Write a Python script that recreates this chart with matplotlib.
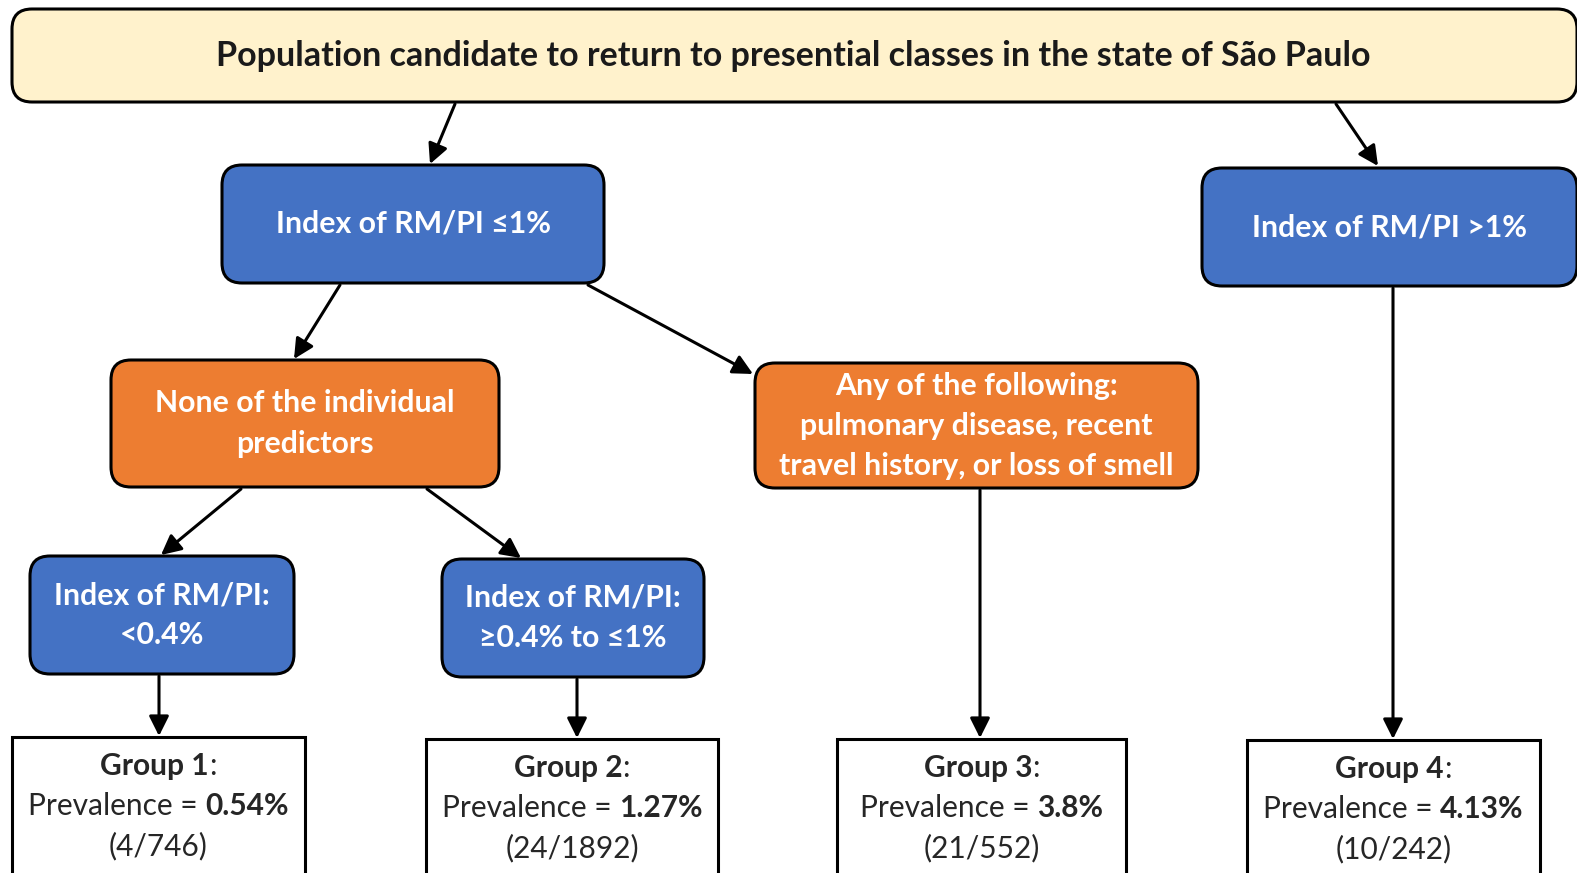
import matplotlib
matplotlib.use("Agg")
import matplotlib.pyplot as plt
from matplotlib.patches import FancyBboxPatch, Rectangle

# ---------------- data ----------------
title_text = "Population candidate to return to presential classes in the state of São Paulo"
node_labels = {
    "A": ["Index of RM/PI ≤1%"],
    "B": ["Index of RM/PI >1%"],
    "C": ["None of the individual", "predictors"],
    "D": ["Any of the following:", "pulmonary disease, recent", "travel history, or loss of smell"],
    "E": ["Index of RM/PI:", "<0.4%"],
    "F": ["Index of RM/PI:", "≥0.4% to ≤1%"],
}
group_names = ["Group 1", "Group 2", "Group 3", "Group 4"]
prevalence = ["0.54%", "1.27%", "3.8%", "4.13%"]
counts = ["(4/746)", "(24/1892)", "(21/552)", "(10/242)"]

# ---------------- layout / style ----------------
W, H = 1577, 873
FONT = ["Lato", "DejaVu Sans"]
BLUE = "#4472C4"
ORANGE = "#ED7D31"
CREAM = "#FFF2CC"

boxes = {  # x0, y0, x1, y1 (pixels, y downward)
    "T": (12, 9, 1577, 102),
    "A": (222, 165, 604, 283),
    "B": (1202, 168, 1577, 286),
    "C": (111, 360, 499, 487),
    "D": (755, 363, 1198, 488),
    "E": (30, 556, 294, 674),
    "F": (442, 559, 704, 677),
}
node_color = {"T": CREAM, "A": BLUE, "B": BLUE, "C": ORANGE, "D": ORANGE, "E": BLUE, "F": BLUE}
group_boxes = [(12, 737, 305, 900), (426, 739, 718, 900), (837, 739, 1126, 900), (1247, 740, 1540, 900)]

arrows = [
    ((455, 104), (430, 164)),
    ((1336, 104), (1378, 166)),
    ((340, 285), (294, 359)),
    ((588, 285), (753, 374)),
    ((241, 489), (161, 555)),
    ((427, 489), (521, 558)),
    ((159, 676), (159, 736)),
    ((577, 679), (577, 738)),
    ((980, 490), (980, 738)),
    ((1393, 288), (1393, 739)),
]

FS_T = 24.5
FS_N = 21.8
FS_G = 21.5
LINE = 40

fig = plt.figure(figsize=(W / 100, H / 100), dpi=100)
ax = fig.add_axes([0, 0, 1, 1])
ax.set_xlim(0, W)
ax.set_ylim(H, 0)
ax.axis("off")
renderer = fig.canvas.get_renderer()

# rounded boxes
for key, (x0, y0, x1, y1) in boxes.items():
    p = FancyBboxPatch((x0, y0), x1 - x0, y1 - y0,
                       boxstyle="round,pad=0,rounding_size=20",
                       facecolor=node_color[key], edgecolor="black", lw=2.2, zorder=2)
    ax.add_patch(p)

# title
x0, y0, x1, y1 = boxes["T"]
ax.text(793, (y0 + y1) / 2 + 1, title_text, ha="center", va="center", fontsize=FS_T,
        fontweight="bold", family=FONT, color="#1a1a1a", zorder=3)

# node text
for key, lines in node_labels.items():
    x0, y0, x1, y1 = boxes[key]
    cx, cy = (x0 + x1) / 2, (y0 + y1) / 2
    n = len(lines)
    for i, s in enumerate(lines):
        y = cy + (i - (n - 1) / 2) * LINE
        ax.text(cx, y, s, ha="center", va="center", fontsize=FS_N, fontweight="bold",
                family=FONT, color="white", zorder=3)


def width_of(s, weight):
    t = ax.text(0, 0, s, fontsize=FS_G, fontweight=weight, family=FONT)
    w = t.get_window_extent(renderer).width
    t.remove()
    return w


space_w = width_of("a a", "normal") - width_of("aa", "normal")


def rich_line(cx, y, parts, color):
    widths = [width_of(s, w) for s, w, g in parts]
    gaps = [g * space_w for s, w, g in parts]
    total = sum(widths) + sum(gaps)
    cur = cx - total / 2
    for (s, w, g), wd, gp in zip(parts, widths, gaps):
        cur += gp
        ax.text(cur, y, s, ha="left", va="center", fontsize=FS_G, fontweight=w,
                family=FONT, color=color, zorder=3)
        cur += wd


TXT = "#262626"
for i, (x0, y0, x1, y1) in enumerate(group_boxes):
    ax.add_patch(Rectangle((x0, y0), x1 - x0, y1 - y0, facecolor="white",
                           edgecolor="black", lw=2.2, zorder=2))
    cx = (x0 + x1) / 2
    rich_line(cx, y0 + 29, [(group_names[i], "bold", 0), (":", "normal", 0)], TXT)
    rich_line(cx, y0 + 29 + LINE, [("Prevalence =", "normal", 0), (prevalence[i], "bold", 1)], TXT)
    ax.text(cx, y0 + 29 + 2 * LINE, counts[i], ha="center", va="center", fontsize=FS_G,
            family=FONT, color=TXT, zorder=3)

for (sx, sy), (ex, ey) in arrows:
    ax.annotate("", xy=(ex, ey), xytext=(sx, sy),
                arrowprops=dict(arrowstyle="-|>,head_length=0.6,head_width=0.3", lw=2.2,
                                color="black", shrinkA=0, shrinkB=0, mutation_scale=20),
                zorder=1)

fig.savefig("out.png", dpi=100)
